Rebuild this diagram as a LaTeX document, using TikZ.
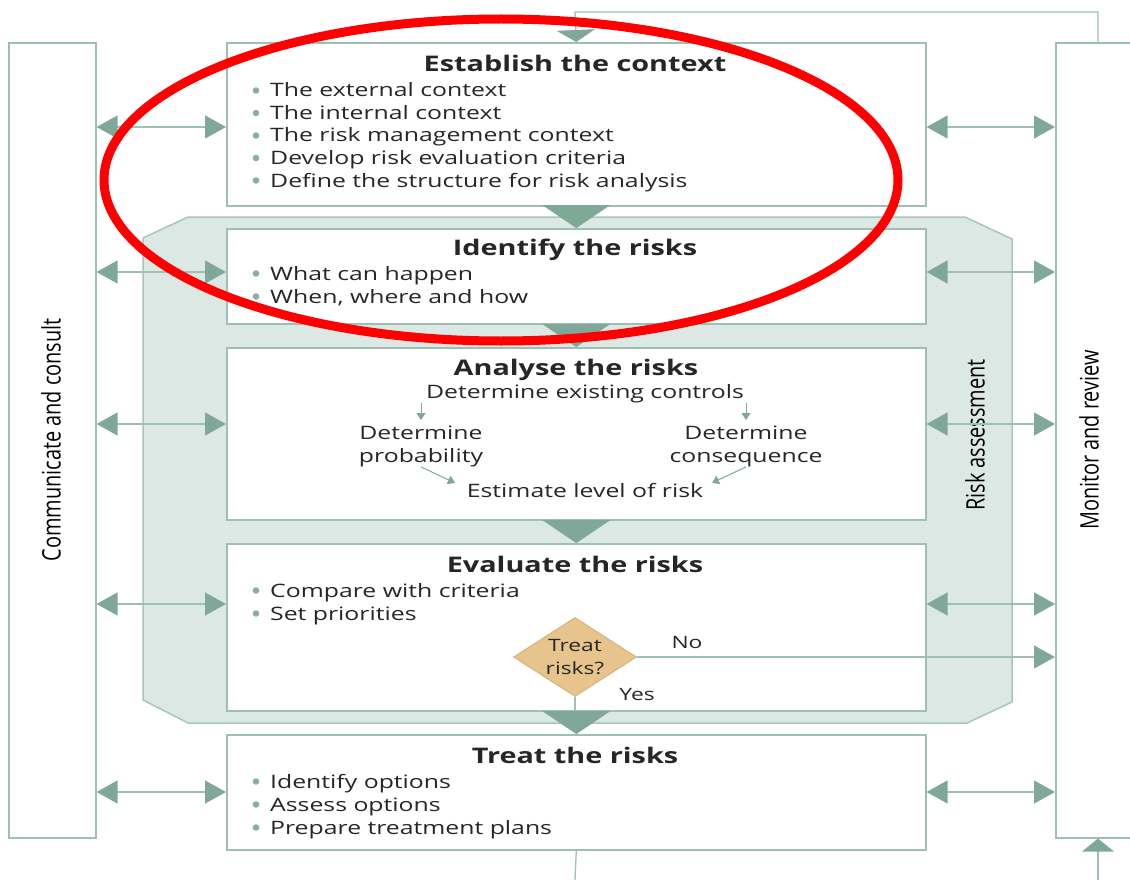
\documentclass[tikz,border=0pt]{standalone}
\usepackage{fontspec}
\setmainfont{Open Sans}[FakeStretch=1.34]
\newfontfamily\condfont[FakeStretch=0.78]{Open Sans}
\usetikzlibrary{arrows.meta,shapes.geometric}
\definecolor{lineC}{HTML}{9DC0B3}
\definecolor{arrC}{HTML}{80A898}
\definecolor{regC}{HTML}{DCE8E4}
\definecolor{regL}{HTML}{A8C6BB}
\definecolor{bulC}{HTML}{8AB0A2}
\definecolor{dmdC}{HTML}{E6C48C}
\definecolor{dmdL}{HTML}{D4B57E}
\definecolor{txtC}{HTML}{262626}
\newcommand{\bul}[4]{\fill[bulC] (256,#3-6.5) circle (3.3pt); \node[btx] (#1) at (#2,#3) {#4};}
\begin{document}
\begin{tikzpicture}[x=1pt,y=-1pt,
 box/.style={draw=lineC, line width=1.6pt, fill=white, inner sep=0pt, anchor=north west},
 ttl/.style={font=\bfseries\fontsize{21.5}{24}\selectfont, text=txtC, anchor=base, inner sep=0pt},
 btx/.style={font=\fontsize{18.5}{22.5}\selectfont, text=txtC, anchor=base west, inner sep=0pt},
 ctx/.style={font=\fontsize{18.5}{22.5}\selectfont, text=txtC, inner sep=0pt, align=center},
 vlab/.style={font=\condfont\fontsize{25.5}{28}\selectfont, text=black, rotate=90, inner sep=0pt},
 line/.style={draw=lineC, line width=1.3pt},
 biarr/.style={line, {Triangle[length=21pt,width=23pt,color=arrC]}-{Triangle[length=21pt,width=23pt,color=arrC]}},
 rarr/.style={line, -{Triangle[length=21pt,width=23pt,color=arrC]}},
 bigtri/.style={draw=arrC, line width=0.1pt, -{Triangle[length=23pt,width=68pt,color=arrC]}},
 smarr/.style={draw=arrC, line width=1pt, -{Triangle[length=7pt,width=9pt,color=arrC]}},
]
\useasboundingbox (0,0) rectangle (1130,880);
% risk assessment region
\draw[fill=regC, draw=regL, line width=1.5pt] (143,238) -- (188,217) -- (965,217) -- (1012,239) -- (1012,702) -- (967,723) -- (188,723) -- (143,700) -- cycle;
\node[vlab] (ra) at (975,435) {Risk assessment};
% side boxes
\node[box, minimum width=87pt, minimum height=795pt] (comm) at (8,42) {};
\node[box, minimum width=95pt, minimum height=795pt] (mon) at (1055,42) {};
\node[vlab] (cl) at (51,440) {Communicate and consult};
\node[vlab] (ml) at (1089,440) {Monitor and review};
% main boxes
\node[box, minimum width=699pt, minimum height=163pt] (est) at (226,42) {};
\node[box, minimum width=699pt, minimum height=95pt] (idf) at (226,228) {};
\node[box, minimum width=699pt, minimum height=172pt] (ana) at (226,347) {};
\node[box, minimum width=699pt, minimum height=167pt] (eva) at (226,543) {};
\node[box, minimum width=699pt, minimum height=115pt] (trt) at (226,734) {};
% texts
\node[ttl] (t1) at (575,72) {Establish the context};
\bul{b11}{270}{97}{The external context}
\bul{b12}{270}{119.5}{The internal context}
\bul{b13}{270}{142}{The risk management context}
\bul{b14}{270}{164.5}{Develop risk evaluation criteria}
\bul{b15}{270}{187}{Define the structure for risk analysis}
\node[ttl] (t2) at (575,255) {Identify the risks};
\bul{b21}{270}{280}{What can happen}
\bul{b22}{270}{303}{When, where and how}
\node[ttl] (t3) at (576,375) {Analyse the risks};
\node[ctx, anchor=base] (ctrl) at (585,398) {Determine existing controls};
\node[ctx, anchor=north] (dp) at (421,426) {Determine\\probability};
\node[ctx, anchor=north] (dc) at (746,426) {Determine\\consequence};
\node[ctx, anchor=base] (lvl) at (585,497) {Estimate level of risk};
\draw[smarr] (ctrl.south -| dp.north) -- ([yshift=6pt]dp.north);
\draw[smarr] (ctrl.south -| dc.north) -- ([yshift=6pt]dc.north);
\draw[smarr] (dp.south) -- ++(34,16);
\draw[smarr] (dc.south) -- ++(-34,16);
\node[ttl] (t4) at (575,572) {Evaluate the risks};
\bul{b41}{270}{597}{Compare with criteria}
\bul{b42}{270}{620}{Set priorities}
\node[ttl] (t5) at (575,763) {Treat the risks};
\bul{b51}{270}{788}{Identify options}
\bul{b52}{270}{811}{Assess options}
\bul{b53}{270}{834}{Prepare treatment plans}
% diamond
\node[diamond, draw=dmdL, fill=dmdC, line width=1pt, minimum width=123pt, minimum height=79pt, aspect=1.56, inner sep=0pt, align=center, text=txtC, font=\fontsize{17}{23}\selectfont] (dm) at (575,657) {Treat\\risks?};
\node[ctx, font=\fontsize{17}{20}\selectfont, anchor=base] (no) at (687,648) {No};
\node[ctx, font=\fontsize{17}{20}\selectfont, anchor=base] (yes) at (637,700) {Yes};
\draw[rarr] (dm.east) -- (mon.west |- dm.east);
\draw[line] (dm.south) -- (eva.south -| dm.south);
% down triangles
\draw[bigtri] (est.south) -- (idf.north);
\draw[bigtri] (idf.south) -- (ana.north);
\draw[bigtri] (ana.south) -- (eva.north);
\draw[bigtri] (eva.south) -- (trt.north);
% side arrows
\coordinate (y1) at (0,127);
\coordinate (y2) at (0,272);
\coordinate (y3) at (0,424);
\coordinate (y4) at (0,604);
\coordinate (y5) at (0,792);
\foreach \b/\y in {est/y1, idf/y2, ana/y3, eva/y4, trt/y5}{
  \draw[biarr] (comm.east |- \y) -- (\b.west |- \y);
  \draw[biarr] (\b.east |- \y) -- (mon.west |- \y);
}
% feedback loop
\coordinate (tr) at (1098,12);
\coordinate (tl) at (575,12);
\draw[line, -{Triangle[length=12pt,width=38pt,color=arrC]}] (mon.north -| tr) -- (tr) -- (tl) -- (est.north);
\coordinate (bl) at (575,880);
\coordinate (br) at (1098,880);
\draw[line] (trt.south) -- (bl);
\draw[line, -{Triangle[length=13pt,width=32pt,color=arrC]}] (br) -- (mon.south -| br);
% red ellipse
\draw[red, line width=9pt] (501,180) ellipse [x radius=397pt, y radius=161pt];
\end{tikzpicture}
\end{document}
